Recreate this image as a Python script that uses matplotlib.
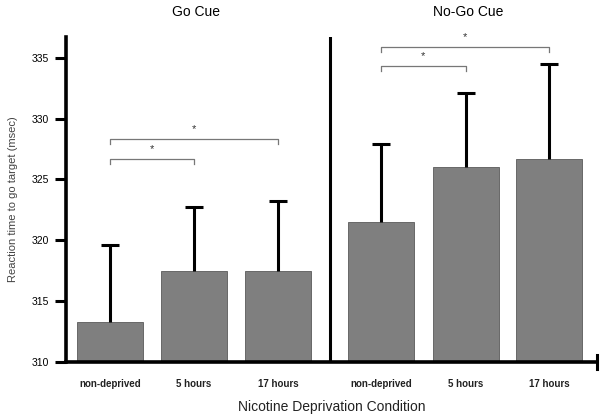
import matplotlib.pyplot as plt

# reaction times (msec)
conditions = ['non-deprived', '5 hours', '17 hours']
go_means = [313.3, 317.5, 317.5]
go_err = [6.3, 5.2, 5.7]
nogo_means = [321.5, 326.0, 326.7]
nogo_err = [6.4, 6.1, 7.8]

# significance brackets: (group, from idx, to idx, height)
brackets = [('go', 0, 1, 326.7), ('go', 0, 2, 328.3),
            ('nogo', 0, 1, 334.3), ('nogo', 0, 2, 335.9)]

plt.rcParams['font.family'] = ['Liberation Sans', 'DejaVu Sans']

fig = plt.figure(figsize=(6.03, 4.2), dpi=100)
ax = fig.add_axes([66 / 603, 1 - 362 / 420, (597 - 66) / 603, (362 - 37) / 420])

go_x = [0, 1, 2]
nogo_x = [3.22, 4.23, 5.22]
width = 0.78
bar_kw = dict(width=width, color='#7f7f7f', edgecolor='#5a5a5a', linewidth=0.6,
              bottom=310, zorder=2)

ax.bar(go_x, [m - 310 for m in go_means], **bar_kw)
ax.bar(nogo_x, [m - 310 for m in nogo_means], **bar_kw)

# upper-only error bars with a cap on top
for xs, means, errs in [(go_x, go_means, go_err), (nogo_x, nogo_means, nogo_err)]:
    tops = [m + e for m, e in zip(means, errs)]
    ax.vlines(xs, means, tops, color='black', lw=2.2, zorder=3)
    ax.plot(xs, tops, ls='none', marker='_', ms=13, mew=2.2, color='black',
            zorder=3)

# brackets with stars
for grp, i, j, h in brackets:
    xs = go_x if grp == 'go' else nogo_x
    x1, x2 = xs[i], xs[j]
    ax.plot([x1, x1, x2, x2], [h - 0.4, h, h, h - 0.4], color='#777777', lw=0.9)
    ax.text((x1 + x2) / 2, h + 0.4, '*', ha='center', va='bottom', fontsize=8,
            color='#333333')

# divider between panels
ax.axvline(2.62, color='black', lw=2.2, zorder=4)

ax.set_xlim(-0.52, 5.79)
ax.set_ylim(310, 336.7)
ax.set_yticks([310, 315, 320, 325, 330, 335])
ax.set_xticks(go_x + nogo_x)
ax.set_xticklabels(conditions * 2, fontsize=7, fontweight='bold', color='#222222')
ax.tick_params(axis='y', length=8, width=2.2, labelsize=7.5, pad=4)
ax.tick_params(axis='x', length=0, pad=12)

for s in ['top', 'right']:
    ax.spines[s].set_visible(False)
ax.spines['left'].set_linewidth(2.6)
ax.spines['bottom'].set_linewidth(2.6)

# end mark on the x axis
ax.plot([5.79, 5.79], [309.4, 310.6], color='black', lw=2.2, clip_on=False)

ax.set_ylabel('Reaction time to go target (msec)', fontsize=8, color='#444444',
              labelpad=10)
ax.set_xlabel('Nicotine Deprivation Condition', fontsize=10, color='#222222',
              labelpad=8)

fig.text(196 / 603, 1 - 12 / 420, 'Go Cue', ha='center', va='center', fontsize=10)
fig.text(468 / 603, 1 - 12 / 420, 'No-Go Cue', ha='center', va='center', fontsize=10)

fig.savefig('out.png', dpi=100)
